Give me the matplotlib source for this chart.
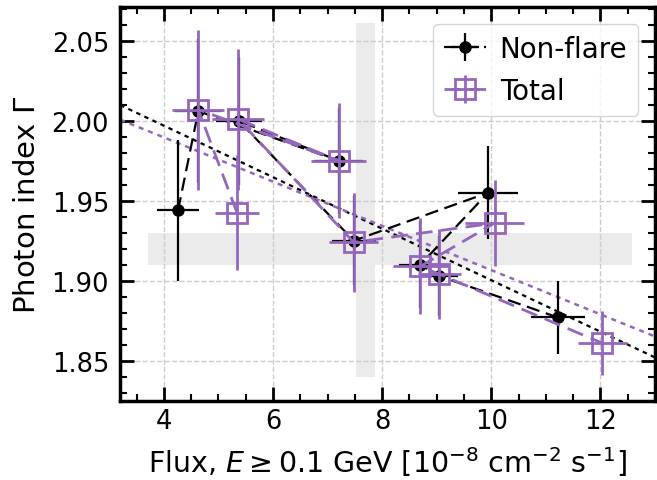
import numpy as np
import matplotlib
matplotlib.use('Agg')
import matplotlib.pyplot as plt

purple = '#9467bd'

# Non-flare points (in plotting order)
nf_flux = [4.26, 4.63, 7.20, 5.37, 7.48, 9.94, 8.70, 9.04, 11.22]
nf_flux_err = [0.39, 0.42, 0.45, 0.42, 0.40, 0.55, 0.40, 0.35, 0.50]
nf_index = [1.944, 2.006, 1.975, 2.000, 1.925, 1.955, 1.910, 1.903, 1.877]
nf_index_err = [0.044, 0.045, 0.033, 0.040, 0.028, 0.029, 0.027, 0.025, 0.023]

# Total points (in plotting order)
tot_flux = [5.34, 4.63, 7.20, 5.36, 7.48, 10.06, 8.70, 9.05, 12.03]
tot_flux_err = [0.40, 0.48, 0.50, 0.47, 0.45, 0.54, 0.50, 0.40, 0.45]
tot_index = [1.9425, 2.007, 1.975, 2.001, 1.924, 1.936, 1.909, 1.904, 1.861]
tot_index_err = [0.036, 0.050, 0.036, 0.044, 0.031, 0.027, 0.030, 0.028, 0.020]

# linear fits (intercept, slope)
nf_fit = (2.0613, -0.0161)
tot_fit = (2.0449, -0.01383)

# shaded bands
hband_y = (1.9096, 1.9298)
hband_x = (3.70, 12.58)
vband_x = (7.525, 7.87)
vband_y = (1.840, 2.061)

fig, ax = plt.subplots(figsize=(6.57, 4.81), dpi=100)
fig.subplots_adjust(left=0.183, right=0.997, top=0.983, bottom=0.165)

ax.fill_between(hband_x, hband_y[0], hband_y[1], color='#ebebeb', lw=0, zorder=0)
ax.fill_between(vband_x, vband_y[0], vband_y[1], color='#ebebeb', lw=0, zorder=0)

ax.axline((0, nf_fit[0]), slope=nf_fit[1], color='black', ls=(0, (2, 2)), lw=1.6, zorder=2)
ax.axline((0, tot_fit[0]), slope=tot_fit[1], color=purple, ls=(0, (2, 2)), lw=1.8, zorder=2)

ax.errorbar(nf_flux, nf_index, xerr=nf_flux_err, yerr=nf_index_err, fmt='o--',
            color='black', ms=8, lw=1.6, elinewidth=1.6, dashes=(6, 3),
            label='Non-flare', zorder=3)
ax.errorbar(tot_flux, tot_index, xerr=tot_flux_err, yerr=tot_index_err, fmt='s--',
            color=purple, mfc='none', mec=purple, ms=14, mew=2, lw=2, elinewidth=2,
            dashes=(6, 3), label='Total', zorder=4)

ax.set_xlim(3.2, 13.0)
ax.set_ylim(1.825, 2.071)
ax.set_xticks([4, 6, 8, 10, 12])
ax.set_yticks([1.85, 1.90, 1.95, 2.00, 2.05])
ax.set_xticks(np.arange(3.5, 13.01, 0.5), minor=True)
ax.set_yticks(np.arange(1.83, 2.071, 0.01), minor=True)
ax.tick_params(which='both', direction='in', top=True, right=True, labelsize=18.5)
ax.tick_params(which='major', length=10, width=2)
ax.tick_params(which='minor', length=5, width=1.5)
ax.tick_params(axis='x', which='major', pad=5.5)
ax.tick_params(axis='y', which='major', pad=8)
for s in ax.spines.values():
    s.set_linewidth(2.5)
ax.grid(True, ls='--', color='#cccccc', lw=1)
ax.set_axisbelow(True)

ax.set_xlabel(r'Flux, $E \geq 0.1$ GeV [$10^{-8}$ cm$^{-2}$ s$^{-1}$]', fontsize=20.5, labelpad=7)
ax.set_ylabel(r'Photon index $\Gamma$', fontsize=21, labelpad=8)
ax.legend(loc='upper right', fontsize=20, handlelength=1.5, borderaxespad=0.6,
          handletextpad=0.5, borderpad=0.4)

fig.savefig('out.png', dpi=100)
